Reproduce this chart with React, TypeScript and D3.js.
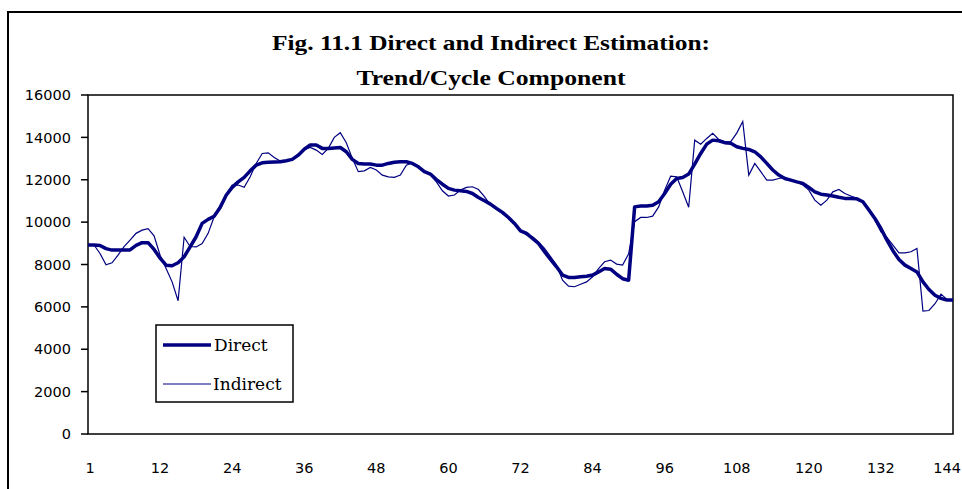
import React from "react";
import { scaleLinear, line } from "d3";

// values, index 0..144
const direct = [
  8920, 8920, 8900, 8750, 8680, 8680, 8680, 8690, 8900, 9030,
  9030, 8710, 8300, 7970, 7940, 8080, 8360, 8835, 9310, 9940,
  10130, 10280, 10690, 11270, 11640, 11900, 12110, 12420, 12690, 12800,
  12830, 12840, 12850, 12900, 12960, 13160, 13440, 13640, 13640, 13480,
  13480, 13500, 13520, 13320, 12960, 12770, 12740, 12740, 12690, 12690,
  12770, 12830, 12850, 12850, 12770, 12610, 12380, 12270, 12010, 11790,
  11590, 11510, 11480, 11450, 11350, 11160, 11010, 10850, 10650, 10460,
  10220, 9940, 9590, 9465, 9230, 8990, 8600, 8240, 7890, 7500,
  7390, 7390, 7420, 7450, 7500, 7650, 7810, 7780, 7540, 7330,
  7260, 10720, 10760, 10760, 10800, 10960, 11350, 11790, 12060, 12110,
  12270, 12740, 13240, 13680, 13870, 13840, 13750, 13720, 13560, 13480,
  13430, 13320, 13080, 12770, 12460, 12220, 12060, 11980, 11900, 11830,
  11640, 11430, 11320, 11280, 11230, 11170, 11120, 11120, 11100, 10960,
  10570, 10170, 9700, 9150, 8650, 8240, 7970, 7810, 7650, 7180,
  6820, 6550, 6400, 6320, 6320,
];

const indirect = [
  8920, 8920, 8520, 7990, 8080, 8440, 8840, 9150, 9470, 9620,
  9690, 9350, 8440, 7810, 7180, 6290, 9290, 8850, 8830, 8990,
  9470, 10250, 10800, 11270, 11750, 11750, 11640, 12140, 12770, 13240,
  13270, 13050, 12880, 12900, 12960, 13160, 13430, 13530, 13400, 13190,
  13480, 14000, 14220, 13750, 13010, 12380, 12420, 12580, 12460, 12220,
  12140, 12110, 12220, 12690, 12800, 12610, 12380, 12220, 11900, 11480,
  11230, 11280, 11510, 11640, 11670, 11540, 11200, 10800, 10600, 10410,
  10170, 9910, 9620, 9390, 9310, 9070, 8760, 8370, 7970, 7260,
  6980, 6950, 7070, 7180, 7420, 7810, 8130, 8210, 8020, 7970,
  8500, 10020, 10220, 10220, 10280, 10720, 11510, 12170, 12140, 11430,
  10700, 13870, 13680, 13950, 14190, 13900, 13790, 13800, 14200, 14750,
  12220, 12770, 12380, 11980, 11980, 12060, 12110, 11980, 11890, 11750,
  11510, 11040, 10800, 11040, 11430, 11540, 11350, 11230, 11120, 10960,
  10650, 10100, 9540, 9280, 8910, 8550, 8550, 8600, 8760, 5800,
  5830, 6150, 6600, 6350, 6320,
];

const xTicks = [0, 12, 24, 36, 48, 60, 72, 84, 96, 108, 120, 132, 144];
const xTickLabels = ["1", "12", "24", "36", "48", "60", "72", "84", "96", "108", "120", "132", "144"];
const yTicks = [0, 2000, 4000, 6000, 8000, 10000, 12000, 14000, 16000];
const titleLines = ["Fig. 11.1 Direct and Indirect Estimation:", "Trend/Cycle Component"];

const W = 962;
const H = 489;
const plot = { left: 88, right: 953, top: 95, bottom: 434 };
const NAVY = "#000080";

export default function App() {
  const x = scaleLinear().domain([0, 144]).range([plot.left, plot.right]);
  const y = scaleLinear().domain([0, 16000]).range([plot.bottom, plot.top]);
  const path = line<number>()
    .x((_, i) => x(i))
    .y(d => y(d));

  const last = xTicks.length - 1;

  return (
    <svg
      width={W}
      height={H}
      style={{ position: "absolute", left: 0, top: 0, background: "#fff" }}
    >
      {/* outer chart frame */}
      <rect x={8} y={12} width={980} height={500} fill="#fff" stroke="#000" strokeWidth={2} />

      {/* title */}
      <g fontFamily="Liberation Serif" fontWeight="bold" fontSize={21} textAnchor="middle" fill="#000">
        <text x={491} y={50} textLength={438} lengthAdjust="spacingAndGlyphs">{titleLines[0]}</text>
        <text x={491} y={85} textLength={269} lengthAdjust="spacingAndGlyphs">{titleLines[1]}</text>
      </g>

      {/* plot box */}
      <rect
        x={plot.left}
        y={plot.top}
        width={plot.right - plot.left}
        height={plot.bottom - plot.top}
        fill="none"
        stroke="#000"
        strokeWidth={1.5}
      />

      {/* y axis */}
      <g fontFamily="DejaVu Sans" fontSize={14.5} fill="#000" textAnchor="end">
        {yTicks.map(t => (
          <g key={t}>
            <line x1={81} x2={plot.left} y1={y(t)} y2={y(t)} stroke="#000" strokeWidth={1.5} />
            <text x={71} y={y(t)} dy="0.36em">{t}</text>
          </g>
        ))}
      </g>

      {/* x axis labels */}
      <g fontFamily="DejaVu Sans" fontSize={14.5} fill="#000" textAnchor="middle">
        {xTicks.map((t, i) => (
          <text
            key={t}
            x={i === 0 ? x(t) + 2 : i === last ? W - 1 : x(t)}
            y={473}
            textAnchor={i === last ? "end" : "middle"}
          >
            {xTickLabels[i]}
          </text>
        ))}
      </g>

      {/* series */}
      <path d={path(indirect) ?? ""} fill="none" stroke={NAVY} strokeWidth={1.2} />
      <path d={path(direct) ?? ""} fill="none" stroke={NAVY} strokeWidth={3.5} strokeLinejoin="round" />

      {/* legend */}
      <rect x={156} y={325} width={137} height={77} fill="#fff" stroke="#000" strokeWidth={1.5} />
      <line x1={163} x2={211} y1={345} y2={345} stroke={NAVY} strokeWidth={3.5} />
      <line x1={163} x2={211} y1={384} y2={384} stroke={NAVY} strokeWidth={1.2} />
      <g fontFamily="DejaVu Serif" fontSize={17} fill="#000">
        <text x={214} y={351}>Direct</text>
        <text x={213} y={390}>Indirect</text>
      </g>
    </svg>
  );
}
